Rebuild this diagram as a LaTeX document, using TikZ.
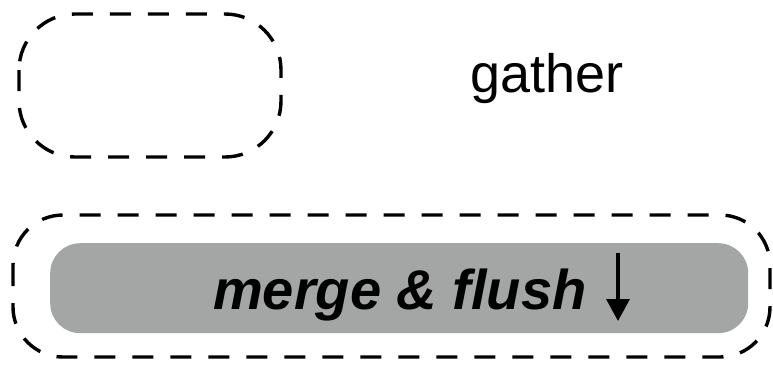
\documentclass[tikz,border=0pt]{standalone}
\usepackage{fontspec}
\setmainfont{Liberation Sans}
\usetikzlibrary{arrows.meta}
\definecolor{boxgray}{HTML}{A4A6A6}
\tikzset{
  dashbox/.style={draw=black, line width=3.4pt, dash pattern=on 21pt off 17pt},
  graybox/.style={fill=boxgray, draw=none},
}
\begin{document}
\begin{tikzpicture}[x=1pt,y=-1pt]
\useasboundingbox (0,0) rectangle (773,367);
% top dashed box
\draw[dashbox, rounded corners=56pt] (19,14) rectangle (281,157);
\node[anchor=base west, font=\fontsize{54}{64}\selectfont, inner sep=0pt] (gather) at (470,92) {gather};
% outer dashed box
\draw[dashbox, rounded corners=50pt] (13,215) rectangle (770,357);
% gray box
\node[graybox, rounded corners=30pt, minimum width=698pt, minimum height=90pt, anchor=north west, inner sep=0pt] (merge) at (50,243) {};
\node[anchor=base west, font=\fontsize{56}{66}\selectfont\bfseries\itshape, inner sep=0pt] (mf) at (213,309) {merge \& flush};
\coordinate (arrtop) at (618,253);
\coordinate (arrbot) at (618,321);
\draw[line width=3.4pt, -{Triangle[length=22pt,width=23pt]}] (arrtop) -- (arrbot);
\end{tikzpicture}
\end{document}
